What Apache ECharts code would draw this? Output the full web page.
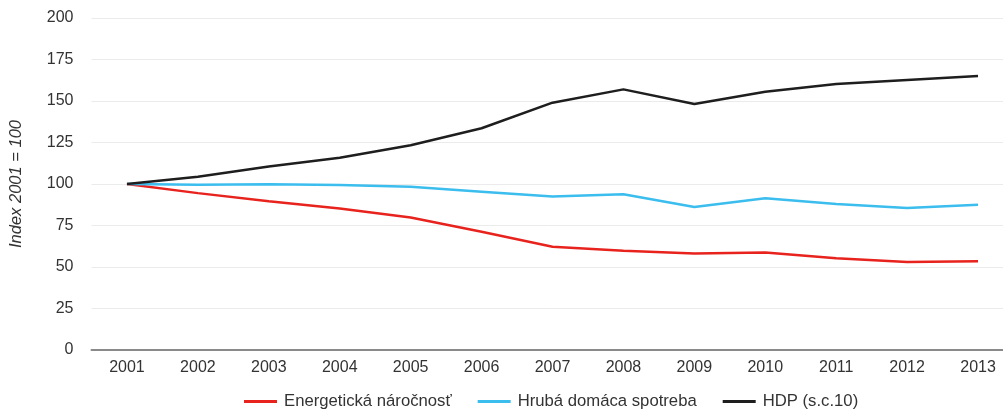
<!DOCTYPE html>
<html>
<head>
<meta charset="utf-8">
<script src="https://cdn.jsdelivr.net/npm/echarts@6/dist/echarts.min.js"></script>
<style>
  html, body { margin: 0; padding: 0; background: #fff; }
  #chart { width: 1003px; height: 412px; }
</style>
</head>
<body>
<div id="chart"></div>
<script>
// roky na osi x
const years = ['2001', '2002', '2003', '2004', '2005', '2006', '2007', '2008', '2009', '2010', '2011', '2012', '2013'];

// hodnoty indexu (2001 = 100), odčítané z grafu
const energetickaNarocnost = [100, 94.5, 89.6, 85.3, 79.8, 71.2, 62.2, 59.8, 58.2, 58.8, 55.2, 53, 53.4];
const hrubaSpotreba = [100, 99.6, 99.8, 99.4, 98.4, 95.4, 92.4, 93.8, 86.1, 91.4, 88, 85.5, 87.5];
const hdp = [100, 104.4, 110.5, 115.8, 123.3, 133.6, 149, 157, 148.2, 155.6, 160.2, 162.7, 165];

const seriesNames = ['Energetická náročnosť', 'Hrubá domáca spotreba', 'HDP (s.c.10)'];
const seriesColors = ['#e8231e', '#3bbdee', '#1e1e1e'];

const chart = echarts.init(document.getElementById('chart'), null, { renderer: 'canvas' });

const font = 'Liberation Sans, Arial, sans-serif';

chart.setOption({
    animation: false,
    color: seriesColors,
    legend: {
        bottom: 2,
        left: 244,
        padding: 0,
        itemWidth: 33,
        itemHeight: 3,
        itemGap: 26,
        icon: 'rect',
        textStyle: { fontFamily: font, fontSize: 16.7, color: '#333', padding: [0, 0, 0, 2] },
        data: seriesNames
    },
    grid: {
        left: 91.5,
        top: 18,
        width: 922,
        height: 332,
        outerBoundsMode: 'none',
        containLabel: false
    },
    xAxis: {
        type: 'category',
        data: years,
        boundaryGap: true,
        axisLine: { lineStyle: { color: '#8a8a8a', width: 2 } },
        axisTick: { show: false },
        axisLabel: { fontFamily: font, fontSize: 16, color: '#333', margin: 10 }
    },
    yAxis: {
        type: 'value',
        min: 0,
        max: 200,
        interval: 25,
        name: 'Index 2001 = 100',
        nameLocation: 'middle',
        nameGap: 67,
        nameRotate: 90,
        nameTextStyle: { fontFamily: font, fontSize: 16.5, fontStyle: 'italic', color: '#333' },
        axisLine: { show: false },
        axisTick: { show: false },
        axisLabel: { fontFamily: font, fontSize: 16, color: '#333', margin: 18 },
        splitLine: { lineStyle: { color: '#ebebeb', width: 1 } }
    },
    series: [
        {
            name: seriesNames[0],
            type: 'line',
            data: energetickaNarocnost,
            showSymbol: false,
            lineStyle: { width: 2.5 }
        },
        {
            name: seriesNames[1],
            type: 'line',
            data: hrubaSpotreba,
            showSymbol: false,
            lineStyle: { width: 2.5 }
        },
        {
            name: seriesNames[2],
            type: 'line',
            data: hdp,
            showSymbol: false,
            lineStyle: { width: 2.5 }
        }
    ]
});
</script>
</body>
</html>
